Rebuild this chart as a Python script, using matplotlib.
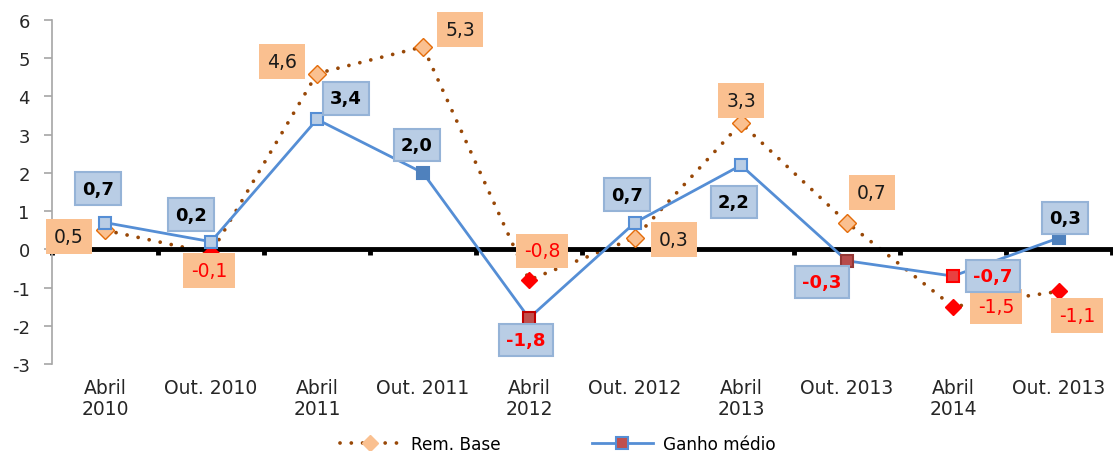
import matplotlib
matplotlib.use('Agg')
import matplotlib.pyplot as plt
from matplotlib.lines import Line2D
import numpy as np

plt.rcParams['font.family'] = ['DejaVu Sans']
plt.rcParams['axes.unicode_minus'] = False

# dados
periodos = ['Abril\n2010', 'Out. 2010', 'Abril\n2011', 'Out. 2011', 'Abril\n2012',
            'Out. 2012', 'Abril\n2013', 'Out. 2013', 'Abril\n2014', 'Out. 2013']
rem_base = [0.5, -0.1, 4.6, 5.3, -0.8, 0.3, 3.3, 0.7, -1.5, -1.1]
ganho_medio = [0.7, 0.2, 3.4, 2.0, -1.8, 0.7, 2.2, -0.3, -0.7, 0.3]

# deslocamento das etiquetas (pixels)
off_rem = [(-36, -6), (-2, -17), (-35, 12), (37, 17), (13, 29), (39, -2),
           (0, 23), (25, 30), (43, 0), (18, -24)]
off_ganho = [(-7, 34), (-20, 27), (29, 21), (-6, 28), (-3, -22), (-8, 28),
             (-7, -37), (-25, -21), (40, 0), (6, 20)]
cor_ganho_face = ['#B9CDE5', '#B9CDE5', '#B9CDE5', '#4F81BD', '#C0504D',
                  '#B9CDE5', '#B9CDE5', '#B84C4C', '#E84040', '#4F81BD']
cor_ganho_borda = ['#558ED5', '#558ED5', '#558ED5', '#4F81BD', '#C00000',
                   '#558ED5', '#558ED5', '#953735', '#FF0000', '#4F81BD']

pontilhado = (0, (0.01, 3.0))

x = np.arange(len(periodos))

fig = plt.figure(figsize=(11.13, 4.52), dpi=100)
ax = fig.add_axes([52 / 1113, 1 - 365 / 452, 1060 / 1113, 344 / 452])

ax.plot(x, rem_base, color='#984807', linestyle=pontilhado, linewidth=2.7,
        dash_capstyle='round', zorder=2)
ax.plot(x, ganho_medio, color='#558ED5', linewidth=2, zorder=3)

for i, v in enumerate(rem_base):
    if v < 0:
        ax.plot(x[i], v, marker='D', markersize=8, color='#FF0000', zorder=4)
    else:
        ax.plot(x[i], v, marker='D', markersize=9, markerfacecolor='#FAC090',
                markeredgecolor='#E46C0A', markeredgewidth=1, zorder=4)
    ax.annotate(f'{v:.1f}'.replace('.', ','), xy=(x[i], v), xytext=off_rem[i],
                textcoords='offset pixels', ha='center', va='center', fontsize=13.5,
                color='#FF0000' if v < 0 else '#1A1A1A', zorder=6,
                bbox=dict(boxstyle='square,pad=0.42', fc='#FAC090', ec='none'))

for i, v in enumerate(ganho_medio):
    ax.plot(x[i], v, marker='s', markersize=8, markerfacecolor=cor_ganho_face[i],
            markeredgecolor=cor_ganho_borda[i], markeredgewidth=1.5, zorder=5)
    ax.annotate(f'{v:.1f}'.replace('.', ','), xy=(x[i], v), xytext=off_ganho[i],
                textcoords='offset pixels', ha='center', va='center', fontsize=13,
                fontweight='bold', color='#FF0000' if v < 0 else '#000000', zorder=6,
                bbox=dict(boxstyle='square,pad=0.4', fc='#B9CDE5', ec='#95B3D7', lw=1.5))

ax.set_xlim(-0.5, len(periodos) - 0.5)
ax.set_ylim(-3, 6)
ax.set_yticks(range(-3, 7))

# eixo horizontal no zero
ax.spines['bottom'].set_position(('data', 0))
ax.spines['bottom'].set_linewidth(3.5)
ax.spines['bottom'].set_color('black')
ax.set_xticks(np.arange(-0.5, len(periodos), 1.0))
ax.set_xticklabels([])
ax.tick_params(axis='x', direction='out', length=4, width=3.5, color='black')
ax.spines['top'].set_visible(False)
ax.spines['right'].set_visible(False)
ax.spines['left'].set_color('#A6A6A6')
ax.spines['left'].set_linewidth(1.2)
ax.tick_params(axis='y', direction='out', length=6, width=1.2, color='#A6A6A6',
               labelsize=13, labelcolor='#262626', pad=10)

sec = ax.secondary_xaxis(0)
sec.set_xticks(x)
sec.set_xticklabels(periodos, fontsize=13.5, color='#262626', linespacing=1.15)
sec.tick_params(length=0, pad=10)
sec.spines['bottom'].set_visible(False)

handles = [
    Line2D([0], [0], color='#984807', linestyle=pontilhado, linewidth=2.7,
           dash_capstyle='round', marker='D', markersize=8,
           markerfacecolor='#FAC090', markeredgecolor='#FAC090'),
    Line2D([0], [0], color='#558ED5', linewidth=2, marker='s', markersize=8,
           markerfacecolor='#C0504D', markeredgecolor='#558ED5', markeredgewidth=1.5),
]
fig.legend(handles, ['Rem. Base', 'Ganho médio'], loc='center',
           bbox_to_anchor=(0.501, 1 - 445 / 452), ncol=2, frameon=False,
           fontsize=12.2, handlelength=3.6, columnspacing=5.4, handletextpad=0.6)

fig.savefig('out.png', dpi=100, facecolor='white')
